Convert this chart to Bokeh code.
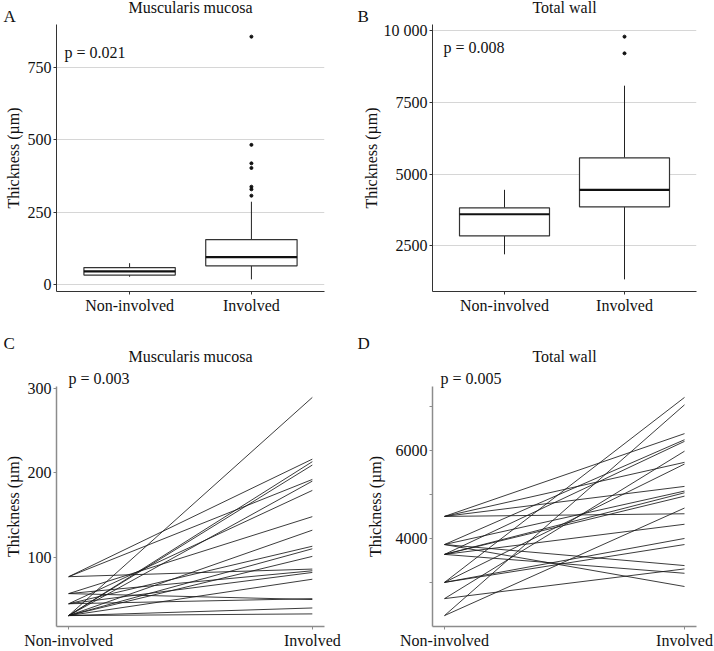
from bokeh.plotting import figure
from bokeh.layouts import column, row
from bokeh.models import Range1d, FixedTicker, Label, Title
from bokeh.embed import file_html
from bokeh.resources import INLINE

FONT = "Liberation Serif"
FS = "16px"
H16 = 18   # approx. text box height of a 16px line
H17 = 19

# ---------------- data ----------------
groups = ["Non-involved", "Involved"]
gx = [1, 2]

# Panel A: muscularis mucosa box plot (µm)
mm_lo = [26, 17]
mm_q1 = [32, 64]
mm_med = [45, 94]
mm_q3 = [58, 155]
mm_hi = [73, 286]
mm_out_grp = [2, 2, 2, 2, 2, 2, 2]
mm_out_val = [858, 483, 419, 403, 338, 329, 307]

# Panel B: total wall box plot (µm)
tw_lo = [2207, 1335]
tw_q1 = [2849, 3860]
tw_med = [3602, 4453]
tw_q3 = [3825, 5568]
tw_hi = [4453, 8079]
tw_out_grp = [2, 2]
tw_out_val = [9787, 9205]

# Panel C: paired muscularis mucosa (µm)
mm_non = [31, 77, 31, 31, 77, 31, 45, 57, 31, 45, 31, 31, 77, 57, 45, 31, 45, 57, 31, 31]
mm_inv = [289, 216, 213, 209, 192, 190, 179, 148, 132, 113, 110, 101, 86, 84, 82, 74, 51, 50, 40, 33]

# Panel D: paired total wall (µm)
tw_non = [4500, 4500, 4500, 4500, 3862, 3862, 3862, 3862, 3638, 3638, 3638, 3638, 3638,
          3003, 3003, 3003, 3003, 2635, 2635, 2250, 2250]
tw_inv = [6378, 5727, 5181, 4560, 6240, 5075, 3385, 2910, 6203, 5036, 4960, 4322, 3210,
          7200, 5688, 4000, 3862, 5980, 3309, 7032, 4690]

p_values = ["p = 0.021", "p = 0.008", "p = 0.003", "p = 0.005"]
titles = ["Muscularis mucosa", "Total wall", "Muscularis mucosa", "Total wall"]
letters = ["A", "B", "C", "D"]
y_label = "Thickness (µm)"


def expand(vals, frac=0.05):
    lo, hi = min(vals), max(vals)
    d = (hi - lo) * frac
    return lo - d, hi + d


def base_fig(w, h, ml, mr, mt, mb, xr, yr, yticks, minor=None, label_standoff=3,
             axis_color="#333333", axis_width=1):
    p = figure(width=w, height=h, output_backend="svg", toolbar_location=None,
               x_range=Range1d(*xr), y_range=Range1d(*yr),
               min_border_left=ml, min_border_right=mr, min_border_top=mt, min_border_bottom=mb)
    p.title.visible = False
    p.outline_line_color = None
    p.background_fill_color = "white"
    p.border_fill_color = "white"

    p.xaxis.ticker = FixedTicker(ticks=gx)
    p.xaxis.major_label_overrides = {gx[0]: groups[0], gx[1]: groups[1]}
    p.yaxis.ticker = FixedTicker(ticks=yticks, minor_ticks=minor or [])
    for ax in (p.xaxis[0], p.yaxis[0]):
        ax.axis_line_color = axis_color
        ax.axis_line_width = axis_width
        ax.major_tick_line_color = axis_color
        ax.major_tick_in = 0
        ax.major_tick_out = 3
        ax.minor_tick_in = 0
        ax.minor_tick_out = 3 if minor else 0
        ax.minor_tick_line_color = axis_color if minor else None
        ax.major_label_text_font = FONT
        ax.major_label_text_font_size = FS
        ax.major_label_text_color = "#111111"
        ax.major_label_standoff = 2
    p.xaxis.minor_tick_line_color = None
    p.xaxis.axis_label = None
    p.xaxis.axis_label_standoff = 0
    p.yaxis.axis_label = y_label
    p.yaxis.axis_label_text_font = FONT
    p.yaxis.axis_label_text_font_size = FS
    p.yaxis.axis_label_text_font_style = "normal"
    p.yaxis.axis_label_text_color = "#111111"
    p.yaxis.axis_label_standoff = label_standoff
    p.xgrid.visible = False
    p.ygrid.visible = False
    return p


def stack_title(p, text, box_h, align="center", offset=0, size=FS, h=H16):
    """Add a text row above the frame; rows are added from the frame outwards."""
    p.add_layout(Title(text=text, align=align, offset=offset, standoff=box_h - 2 - h,
                       vertical_align="middle", text_font=FONT, text_font_size=size,
                       text_font_style="normal", text_color="#111111"), "above")


def frame_label(p, txt, x, y):
    p.add_layout(Label(x=x, y=y, x_units="screen", y_units="screen", text=txt,
                       text_font=FONT, text_font_size=FS, text_color="#111111",
                       text_baseline="middle", text_align="left"))


def boxplot(p, lo, q1, med, q3, hi, out_g, out_v, half=0.375):
    p.segment(x0=gx, x1=gx, y0=q3, y1=hi, line_color="#222222", line_width=1)
    p.segment(x0=gx, x1=gx, y0=lo, y1=q1, line_color="#222222", line_width=1)
    p.quad(left=[g - half for g in gx], right=[g + half for g in gx], bottom=q1, top=q3,
           fill_color="white", line_color="#333333", line_width=1.2)
    p.segment(x0=[g - half for g in gx], x1=[g + half for g in gx], y0=med, y1=med,
              line_color="#111111", line_width=2.2)
    p.scatter(x=out_g, y=out_v, size=3, color="#111111")


H1, H2 = 316, 335
WL, WR = 357, 357
ML1, ML2 = 56, 75          # left borders (left / right column)
MR1, MR2 = 33, 18          # right borders
MT1, MB1 = 24, 24          # top / bottom borders, row 1
MT2, MB2 = 70, 24          # top / bottom borders, row 2
FH1 = H1 - MT1 - MB1       # frame height, row 1

# ---------------- Panel A ----------------
yrA = expand(mm_lo + mm_hi + mm_out_val)
pA = base_fig(WL, H1, ML1, MR1, MT1, MB1, (0.4, 2.6), yrA, [0, 250, 500, 750], label_standoff=3)
pA.ygrid.visible = True
pA.ygrid.ticker = FixedTicker(ticks=[0, 250, 500, 750])
pA.ygrid.grid_line_color = "#d6d6d6"
boxplot(pA, mm_lo, mm_q1, mm_med, mm_q3, mm_hi, mm_out_grp, mm_out_val)
stack_title(pA, letters[0], 17, align="left", offset=-ML1 + 3, size="17px", h=H17)
stack_title(pA, titles[0], 0)
stack_title(pA, " ", MT1 - 17)
frame_label(pA, p_values[0], 8, FH1 - 29)

# ---------------- Panel B ----------------
yrB = expand(tw_lo + tw_hi + tw_out_val)
pB = base_fig(WR, H1, ML2, MR2, MT1, MB1, (0.4, 2.6), yrB, [2500, 5000, 7500, 10000],
              label_standoff=1)
pB.yaxis.major_label_overrides = {10000: "10 000"}
pB.ygrid.visible = True
pB.ygrid.ticker = FixedTicker(ticks=[2500, 5000, 7500, 10000])
pB.ygrid.grid_line_color = "#d6d6d6"
boxplot(pB, tw_lo, tw_q1, tw_med, tw_q3, tw_hi, tw_out_grp, tw_out_val)
stack_title(pB, letters[1], 17, align="left", offset=-ML2 + 0, size="17px", h=H17)
stack_title(pB, titles[1], 0)
stack_title(pB, " ", MT1 - 17)
frame_label(pB, p_values[1], 11, FH1 - 24)

# ---------------- Panel C ----------------
yrC = expand(mm_non + mm_inv)
pC = base_fig(WL, H2, ML1, MR1, MT2, MB2, (0.95, 2.05), yrC, [0, 100, 200, 300],
              label_standoff=3, axis_color="#8c8c8c", axis_width=1.5)
pC.multi_line(xs=[gx for _ in mm_non], ys=[[a, b] for a, b in zip(mm_non, mm_inv)],
              line_color="#1a1a1a", line_width=1, line_alpha=0.85)
stack_title(pC, p_values[2], 18, align="left", offset=12)
stack_title(pC, titles[2], 27)
stack_title(pC, letters[2], 0, align="left", offset=-ML1 + 3, size="17px", h=H17)
stack_title(pC, " ", MT2 - 45)

# ---------------- Panel D ----------------
yrD = expand(tw_non + tw_inv)
pD = base_fig(WR, H2, ML2, MR2, MT2, MB2, (0.95, 2.05), yrD, [2000, 4000, 6000],
              minor=[3000, 5000, 7000], label_standoff=9, axis_color="#8c8c8c", axis_width=1.5)
pD.multi_line(xs=[gx for _ in tw_non], ys=[[a, b] for a, b in zip(tw_non, tw_inv)],
              line_color="#1a1a1a", line_width=1, line_alpha=0.85)
stack_title(pD, p_values[3], 18, align="left", offset=8)
stack_title(pD, titles[3], 27)
stack_title(pD, letters[3], 0, align="left", offset=-ML2 + 0, size="17px", h=H17)
stack_title(pD, " ", MT2 - 45)

layout = column(row(pA, pB, spacing=0), row(pC, pD, spacing=0), spacing=0)

open("out.html", "w").write(file_html(layout, INLINE))
